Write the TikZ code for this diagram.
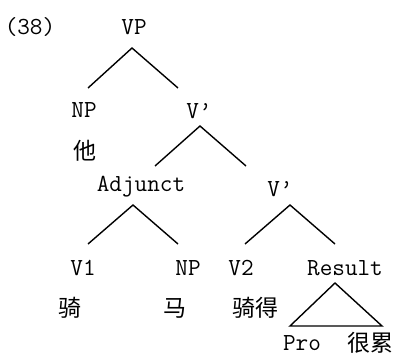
\documentclass[tikz,border=0pt]{standalone}
\usepackage{fontspec}
\setmonofont{Latin Modern Mono}
\newfontfamily\cjk{Noto Sans CJK SC}
\begin{document}
\begin{tikzpicture}[x=1pt,y=-1pt,
  lab/.style={font=\fontsize{24.5}{24.5}\selectfont\ttfamily, inner sep=0pt, anchor=center},
  zh/.style={font=\fontsize{23}{23}\selectfont\cjk, inner sep=0pt, anchor=center},
  branch/.style={line width=1.4pt}]
\useasboundingbox (0,0) rectangle (399,355);
\node[lab] (ex) at (30,27) {(38)};
\node[lab] (vp) at (134,27) {VP};
\node[lab] (np1) at (84,110) {NP};
\node[zh] (ta) at (85,151) {他};
\node[lab] (vb1) at (199,111) {V’};
\node[lab] (adj) at (141,187) {Adjunct};
\node[lab] (vb2) at (280,189) {V’};
\node[lab] (v1) at (83,268) {V1};
\node[lab] (np2) at (188,268) {NP};
\node[lab] (v2) at (241,268) {V2};
\node[lab] (res) at (345,268) {Result};
\node[zh] (qi) at (70,308) {骑};
\node[zh] (ma) at (175,308) {马};
\node[zh] (qide) at (255,308) {骑得};
\node[lab] (pro) at (302,343) {Pro};
\node[zh] (henlei) at (370,343) {很累};
% branch points
\coordinate (a1) at (132,48); \coordinate (a1l) at (88,88); \coordinate (a1r) at (178,88);
\coordinate (a2) at (200,126); \coordinate (a2l) at (155,166); \coordinate (a2r) at (246,166);
\coordinate (a3) at (133,205); \coordinate (a3l) at (88,244); \coordinate (a3r) at (178,244);
\coordinate (a4) at (290,205); \coordinate (a4l) at (245,244); \coordinate (a4r) at (335,244);
\coordinate (t0) at (335,283); \coordinate (tl) at (290,326); \coordinate (tr) at (382,326);
\draw[branch] (a1l) -- (a1) -- (a1r);
\draw[branch] (a2l) -- (a2) -- (a2r);
\draw[branch] (a3l) -- (a3) -- (a3r);
\draw[branch] (a4l) -- (a4) -- (a4r);
\draw[branch] (tl) -- (t0) -- (tr) -- cycle;
\end{tikzpicture}
\end{document}
